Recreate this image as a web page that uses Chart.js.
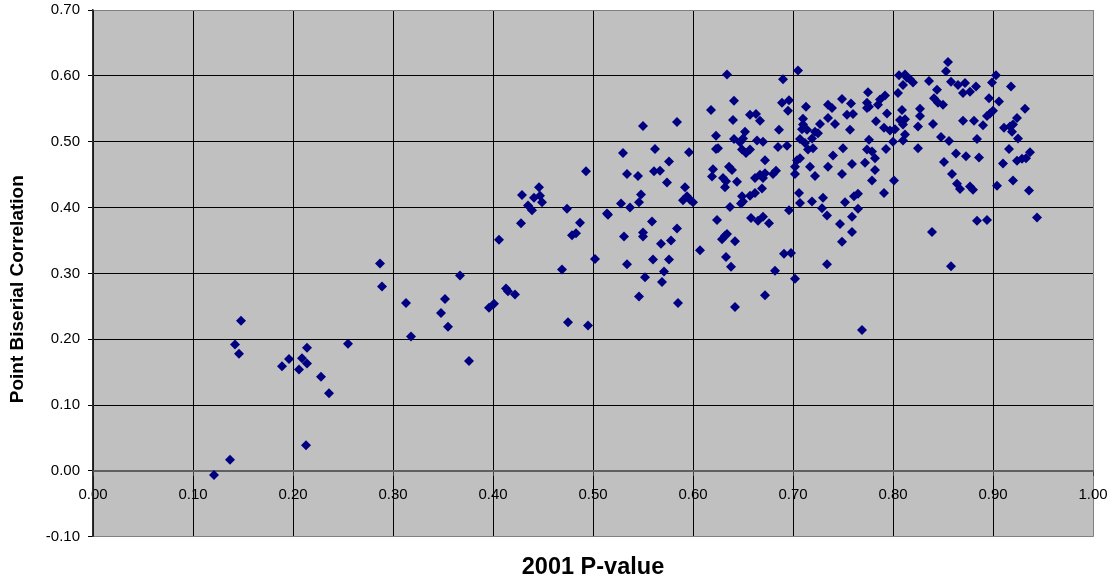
<!DOCTYPE html>
<html>
<head>
<meta charset="utf-8">
<title>Point Biserial Correlation vs 2001 P-value</title>
<script src="https://cdn.jsdelivr.net/npm/chart.js@4.4.1/dist/chart.umd.min.js"></script>
<style>
  html, body { margin: 0; padding: 0; background: #fff; }
  canvas { display: block; }
</style>
</head>
<body>
<canvas id="chart-scatter" width="1116" height="582"></canvas>
<script>
// values, left to right
const pValues = [
  0.121, 0.137, 0.142, 0.146, 0.148, 0.189, 0.196, 0.206, 0.209, 0.213, 0.214, 0.214, 0.228, 0.236, 0.255,
  0.287, 0.289, 0.313, 0.318, 0.348, 0.352, 0.355, 0.367, 0.376, 0.396, 0.401, 0.406,
  0.413, 0.415, 0.422, 0.428, 0.429, 0.435, 0.439, 0.441, 0.446, 0.447, 0.449, 0.469, 0.474, 0.475,
  0.479, 0.483, 0.487, 0.493, 0.495, 0.502, 0.514, 0.515, 0.528, 0.530, 0.531, 0.534, 0.534, 0.537,
  0.545, 0.546, 0.548, 0.546, 0.550, 0.550, 0.550, 0.552,
  0.559, 0.560, 0.562, 0.561, 0.567, 0.568, 0.569, 0.571, 0.574, 0.576, 0.576, 0.578, 0.584, 0.584,
  0.585, 0.592, 0.590, 0.594, 0.597, 0.600, 0.596, 0.607, 0.618, 0.623, 0.624, 0.620, 0.619, 0.623,
  0.625, 0.629, 0.632, 0.634, 0.633, 0.638, 0.634, 0.641, 0.640, 0.641, 0.630, 0.633, 0.632, 0.636,
  0.639, 0.644, 0.637, 0.642, 0.642, 0.649, 0.650, 0.648, 0.647, 0.650, 0.652, 0.649, 0.653, 0.657,
  0.657, 0.658, 0.657,
  0.663, 0.667, 0.664, 0.670, 0.672, 0.662, 0.667, 0.672, 0.670, 0.680, 0.683, 0.662, 0.669, 0.665,
  0.670, 0.676, 0.686, 0.685, 0.694, 0.690, 0.689, 0.696, 0.695, 0.705, 0.696, 0.691, 0.698, 0.682,
  0.702, 0.672, 0.713, 0.710, 0.710, 0.709, 0.714, 0.707, 0.712, 0.715, 0.720, 0.719, 0.722, 0.727,
  0.725, 0.704, 0.707, 0.702, 0.702, 0.717, 0.722, 0.706, 0.707, 0.719, 0.730, 0.729, 0.734, 0.734,
  0.735, 0.739, 0.735, 0.742, 0.740, 0.735, 0.747, 0.749, 0.749, 0.758, 0.754, 0.760, 0.757, 0.750,
  0.759, 0.749, 0.752, 0.759, 0.759, 0.761, 0.765, 0.765, 0.769,
  0.775, 0.774, 0.774, 0.776, 0.785, 0.787, 0.792, 0.794, 0.783, 0.791, 0.797, 0.802, 0.800, 0.810,
  0.776, 0.774, 0.779, 0.782, 0.772, 0.793, 0.782, 0.779, 0.791, 0.801, 0.806, 0.812, 0.814, 0.817,
  0.820, 0.810, 0.805, 0.809, 0.807, 0.812, 0.810, 0.812, 0.827, 0.827, 0.825, 0.825, 0.836, 0.844,
  0.841, 0.845, 0.850, 0.840, 0.848, 0.856, 0.853, 0.855, 0.858, 0.851, 0.863, 0.859, 0.864, 0.839,
  0.858,
  0.865, 0.872, 0.870, 0.877, 0.883, 0.870, 0.881, 0.890, 0.884, 0.873, 0.886, 0.867, 0.877, 0.880,
  0.884, 0.894, 0.903, 0.899, 0.896, 0.906, 0.894, 0.897, 0.900, 0.918, 0.932, 0.924, 0.911, 0.917,
  0.919, 0.920, 0.925, 0.916, 0.910, 0.924, 0.929, 0.933, 0.937, 0.904, 0.920, 0.936, 0.944
];

const correlations = [
  -0.006, 0.017, 0.192, 0.178, 0.228, 0.159, 0.170, 0.154, 0.171, 0.039, 0.187, 0.163, 0.143, 0.118, 0.193,
  0.315, 0.280, 0.255, 0.204, 0.240, 0.261, 0.219, 0.297, 0.167, 0.248, 0.254, 0.351,
  0.277, 0.273, 0.268, 0.376, 0.419, 0.403, 0.396, 0.415, 0.431, 0.418, 0.408, 0.306, 0.398, 0.226,
  0.358, 0.361, 0.377, 0.455, 0.221, 0.322, 0.391, 0.389, 0.406, 0.483, 0.356, 0.451, 0.314, 0.400,
  0.448, 0.408, 0.420, 0.265, 0.524, 0.362, 0.356, 0.294,
  0.379, 0.321, 0.489, 0.455, 0.456, 0.345, 0.287, 0.303, 0.438, 0.470, 0.321, 0.350, 0.530, 0.368,
  0.255, 0.431, 0.411, 0.417, 0.412, 0.408, 0.484, 0.335, 0.548, 0.509, 0.381, 0.458, 0.447, 0.489,
  0.490, 0.352, 0.357, 0.360, 0.325, 0.310, 0.602, 0.562, 0.533, 0.504, 0.445, 0.440, 0.431, 0.462,
  0.457, 0.439, 0.401, 0.349, 0.249, 0.417, 0.409, 0.406, 0.499, 0.505, 0.515, 0.488, 0.483, 0.488,
  0.541, 0.384, 0.418,
  0.542, 0.532, 0.502, 0.500, 0.472, 0.445, 0.450, 0.452, 0.445, 0.451, 0.456, 0.422, 0.429, 0.380,
  0.386, 0.376, 0.518, 0.492, 0.494, 0.595, 0.559, 0.563, 0.547, 0.608, 0.396, 0.330, 0.331, 0.304,
  0.292, 0.267, 0.553, 0.535, 0.526, 0.519, 0.518, 0.504, 0.498, 0.488, 0.490, 0.505, 0.515, 0.527,
  0.513, 0.472, 0.475, 0.462, 0.451, 0.462, 0.448, 0.422, 0.407, 0.409, 0.415, 0.399, 0.388, 0.314,
  0.556, 0.551, 0.536, 0.527, 0.479, 0.462, 0.375, 0.348, 0.565, 0.558, 0.541, 0.542, 0.518, 0.490,
  0.466, 0.451, 0.408, 0.386, 0.363, 0.417, 0.421, 0.398, 0.214,
  0.575, 0.559, 0.551, 0.553, 0.556, 0.564, 0.570, 0.543, 0.531, 0.521, 0.517, 0.519, 0.500, 0.502,
  0.503, 0.488, 0.485, 0.475, 0.468, 0.489, 0.457, 0.441, 0.422, 0.441, 0.601, 0.602, 0.597, 0.595,
  0.590, 0.586, 0.574, 0.548, 0.533, 0.534, 0.526, 0.511, 0.550, 0.539, 0.523, 0.490, 0.592, 0.579,
  0.566, 0.559, 0.556, 0.527, 0.507, 0.501, 0.607, 0.621, 0.591, 0.469, 0.482, 0.451, 0.436, 0.363,
  0.311,
  0.586, 0.589, 0.574, 0.576, 0.584, 0.532, 0.532, 0.525, 0.504, 0.478, 0.476, 0.428, 0.432, 0.427,
  0.380, 0.381, 0.601, 0.590, 0.566, 0.561, 0.539, 0.543, 0.547, 0.584, 0.550, 0.536, 0.521, 0.523,
  0.515, 0.526, 0.505, 0.489, 0.467, 0.471, 0.474, 0.475, 0.484, 0.433, 0.441, 0.426, 0.385
];

const xTickValues = [0, 0.1, 0.2, 0.3, 0.4, 0.5, 0.6, 0.7, 0.8, 0.9, 1.0];
const yTickValues = [-0.1, 0, 0.1, 0.2, 0.3, 0.4, 0.5, 0.6, 0.7];

const FONT = "'Liberation Sans', Arial, sans-serif";

// grey plot area like the old spreadsheet chart
const plotBackground = {
  id: 'plotBackground',
  beforeDraw(chart) {
    const { ctx, chartArea } = chart;
    ctx.save();
    ctx.fillStyle = '#ffffff';
    ctx.fillRect(0, 0, chart.width, chart.height);
    ctx.fillStyle = '#c0c0c0';
    ctx.fillRect(chartArea.left, chartArea.top, chartArea.right - chartArea.left, chartArea.bottom - chartArea.top);
    ctx.restore();
  }
};

const points = pValues.map((x, i) => ({ x: x, y: correlations[i] }));

new Chart(document.getElementById('chart-scatter'), {
  type: 'scatter',
  data: {
    datasets: [{
      label: 'Items',
      data: points,
      pointStyle: 'rectRot',
      pointRadius: 5,
      pointHoverRadius: 5,
      pointBorderWidth: 0,
      backgroundColor: '#000080',
      borderColor: '#000080'
    }]
  },
  options: {
    responsive: false,
    animation: false,
    layout: {
      padding: { top: 10, right: 23, bottom: 0, left: 0 }
    },
    plugins: {
      legend: { display: false },
      tooltip: { enabled: false },
      title: {
        display: true,
        position: 'bottom',
        fullSize: false,
        text: '2001 P-value',
        color: '#000',
        font: { family: FONT, size: 23.5, weight: 'bold' },
        padding: { top: 17, bottom: 0 }
      }
    },
    scales: {
      x: {
        type: 'linear',
        position: { y: 0 },
        min: 0,
        max: 1,
        afterBuildTicks: scale => { scale.ticks = xTickValues.map(v => ({ value: v })); },
        // labels overhang is already covered by the layout padding
        afterFit: scale => { scale.paddingLeft = 0; scale.paddingRight = 0; },
        ticks: {
          color: '#000',
          font: { family: FONT, size: 15 },
          padding: 11,
          maxRotation: 0,
          autoSkip: false,
          callback: v => v.toFixed(2)
        },
        grid: {
          color: ctx => (ctx.tick && ctx.tick.value === 1 ? '#808080' : '#000'),
          lineWidth: 1,
          tickLength: 4,
          tickColor: '#404040'
        },
        border: { display: true, color: '#606060', width: 2 }
      },
      y: {
        type: 'linear',
        position: 'left',
        min: -0.1,
        max: 0.7,
        afterBuildTicks: scale => { scale.ticks = yTickValues.map(v => ({ value: v })); },
        afterFit: scale => {
          scale.width = 93;
          scale.paddingTop = 0;
          scale.paddingBottom = 0;
        },
        ticks: {
          color: '#000',
          font: { family: FONT, size: 15 },
          padding: 8,
          autoSkip: false,
          callback: v => v.toFixed(2)
        },
        grid: {
          color: ctx => {
            const v = ctx.tick ? Math.round(ctx.tick.value * 100) : null;
            if (v === 70 || v === -10) return '#808080';
            if (v === 0) return '#606060';
            return '#000';
          },
          lineWidth: 1,
          tickLength: 5,
          tickColor: '#000'
        },
        border: { display: true, color: '#303030', width: 1.5 },
        title: {
          display: true,
          // trailing spaces push the words a little lower, as in the reference
          text: 'Point Biserial Correlation      ',
          color: '#000',
          font: { family: FONT, size: 19, weight: 'bold' },
          padding: { top: 6, bottom: 0 }
        }
      }
    }
  },
  plugins: [plotBackground]
});
</script>
</body>
</html>
